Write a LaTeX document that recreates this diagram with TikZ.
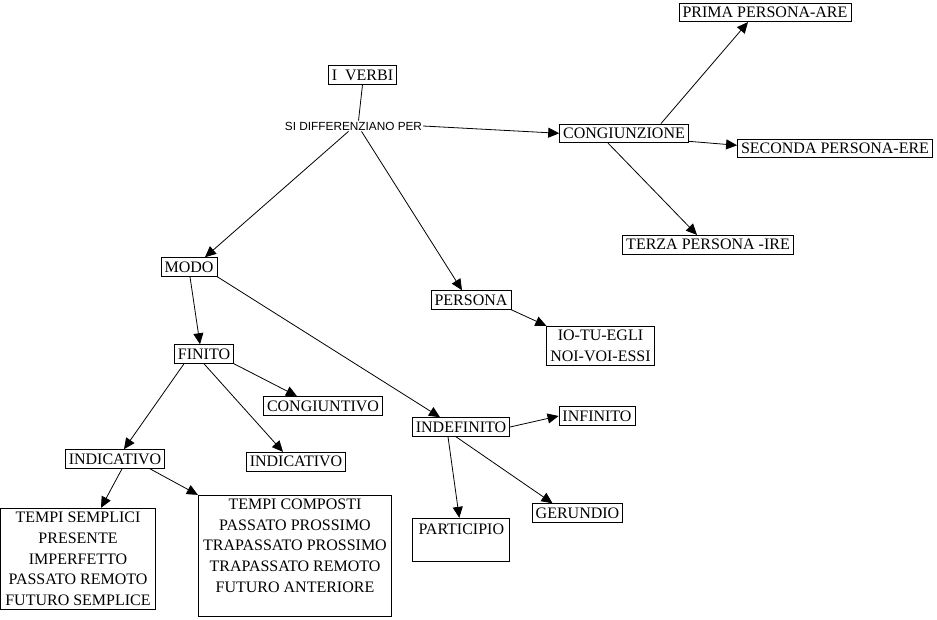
\documentclass[tikz,border=0pt]{standalone}
\usepackage{fontspec}
\setmainfont{Liberation Serif}
\newfontfamily\linkfont{Liberation Sans}
\usetikzlibrary{arrows.meta,positioning}
\tikzset{
concept/.style={draw,line width=.8pt,inner xsep=3.5pt,inner ysep=4pt,align=center,font=\fontsize{16}{20.7}\selectfont},
linkword/.style={inner sep=1pt,font=\linkfont\fontsize{11.8}{14}\selectfont},
link/.style={line width=.8pt},
flow/.style={-{Triangle[length=11pt,width=10pt]},line width=.8pt}
}
\begin{document}
\begin{tikzpicture}[x=1pt,y=-1pt]
\useasboundingbox (0,0) rectangle (937,619);
\node[concept](verbi) at (362.5,75){I\ \ VERBI};
\node[linkword](diff) at (353.5,126){SI DIFFERENZIANO PER};
\node[concept](cong) at (624,133.3){CONGIUNZIONE};
\node[concept](prima) at (765,12.3){PRIMA PERSONA-ARE};
\node[concept](seconda) at (835,148.3){SECONDA PERSONA-ERE};
\node[concept](terza) at (708,244.7){TERZA PERSONA -IRE};
\node[concept](modo) at (189,267){MODO};
\node[concept](persona) at (471,300){PERSONA};
\node[concept](pronomi) at (600.5,346){IO-TU-EGLI\\NOI-VOI-ESSI};
\node[concept](finito) at (204,354){FINITO};
\node[concept](congiuntivo) at (323,406){CONGIUNTIVO};
\node[concept](indefinito) at (461,427){INDEFINITO};
\node[concept](infinito) at (597,416){INFINITO};
\node[concept](indicativoa) at (115,459){INDICATIVO};
\node[concept](indicativob) at (296,461.7){INDICATIVO};
\node[concept](gerundio) at (577.5,513){GERUNDIO};
\node[concept,minimum width=97pt,minimum height=43.5pt](participio) at (461.3,540){PARTICIPIO\\\mbox{}};
\node[concept,minimum width=155pt](semplici) at (78,559){TEMPI SEMPLICI\\PRESENTE\\IMPERFETTO\\PASSATO REMOTO\\FUTURO SEMPLICE};
\node[concept,minimum width=193.5pt,minimum height=121.5pt,inner ysep=2pt](composti) at (295,556){TEMPI COMPOSTI\\PASSATO PROSSIMO\\TRAPASSATO PROSSIMO\\TRAPASSATO REMOTO\\FUTURO ANTERIORE\\\mbox{}};
\draw[link](verbi.south)--([xshift=5pt]diff.north);
\draw[flow](diff.east)--(cong.west);
\draw[flow]([xshift=-5pt]diff.south)--([xshift=16pt]modo.north);
\draw[flow]([xshift=8pt]diff.south)--([xshift=-9pt]persona.north);
\draw[flow]([xshift=37pt]cong.north)--([xshift=-17pt]prima.south);
\draw[flow]([yshift=-8pt]cong.east)--([yshift=3pt]seconda.west);
\draw[flow]([xshift=-16pt]cong.south)--([xshift=-11pt]terza.north);
\draw[flow]([xshift=1pt]modo.south)--([xshift=-4pt]finito.north);
\draw[flow](modo.south east)--([xshift=-21pt]indefinito.north);
\draw[flow](persona.south east)--(pronomi.north west);
\draw[flow]([xshift=-20pt]finito.south)--([xshift=9pt]indicativoa.north);
\draw[flow](finito.south east)--([xshift=-26pt]congiuntivo.north);
\draw[flow](finito.south)--([xshift=-13pt]indicativob.north);
\draw[flow]([xshift=7pt]indicativoa.south)--([xshift=23pt]semplici.north);
\draw[flow]([xshift=35pt]indicativoa.south)--(composti.north west);
\draw[flow](indefinito.east)--(infinito.west);
\draw[flow]([xshift=-13pt]indefinito.south)--([xshift=-2pt]participio.north);
\draw[flow]([xshift=-5pt]indefinito.south)--([xshift=-25pt]gerundio.north);
\end{tikzpicture}
\end{document}
